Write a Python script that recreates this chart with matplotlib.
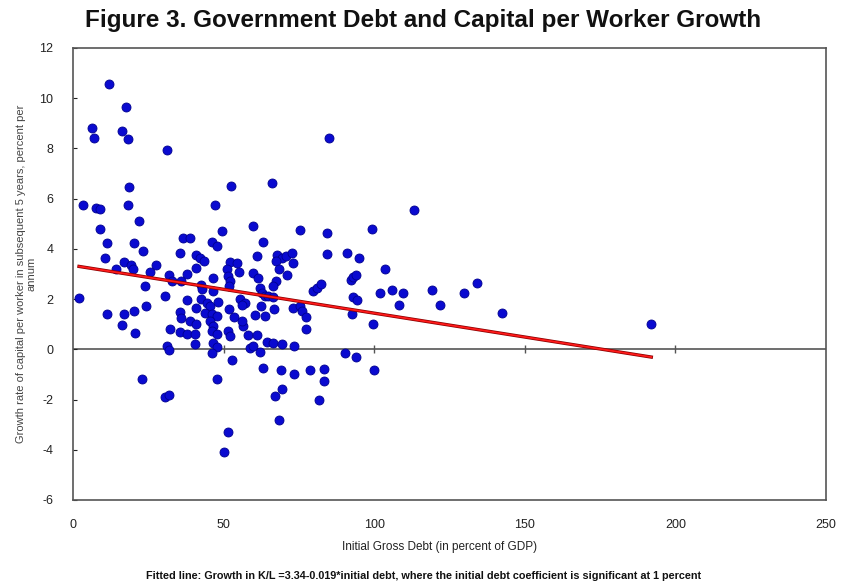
import matplotlib.pyplot as plt
import numpy as np

# initial gross debt (% of GDP) and subsequent 5-year growth of K/L (% p.a.)
debt = [12, 17.6, 6.3, 7, 16.4, 18.1, 31.2, 18.7, 52.4, 3.3, 7.8, 9, 18.3, 47.2,
        22, 9, 49.6, 11.2, 20.4, 36.4, 38.8, 46.2, 47.7, 23.1, 35.5, 10.6, 40.8,
        42.1, 43.6, 16.9, 19.3, 20, 27.5, 14.3, 25.6, 40.8, 52.1, 54.3, 51, 55.2,
        32, 37.7, 51.3, 46.4, 32.8, 35.8, 42.5, 42.7, 52.1, 51.9, 23.9, 46.4, 2,
        30.5, 37.7, 42.4, 44.4, 45.5, 55.5, 57, 24.2, 48.1, 40.8, 51.9, 35.5, 35.8,
        43.8, 46, 47.7, 11.4, 16.9, 20.4, 53.5, 16.4, 20.6, 32.2, 35.5, 38.8, 41,
        45.5, 46.6, 56.5, 37.7, 40.5, 46, 47.7, 51.5, 52.1, 31.1, 40.5, 46.6, 47.7,
        32, 46, 58.6, 52.9, 22.8, 47.7, 30.5, 31.9, 51.5, 50.1,
        85.1, 66, 113.2, 59.8, 75.5, 84.4, 99.2, 63.2, 61.2, 67.6, 69.3, 70.7, 72.8,
        73.1, 84.4, 91, 95, 67.4, 68.5, 70.9, 59.6, 61.5, 67.4, 66.5, 62.1,
        62.6, 103.5, 92.2, 93, 94.1, 79.8, 81.1, 82.5, 101.9, 106, 109.6, 108.3, 93,
        94.4, 63.7, 64.8, 66.5, 56, 62.3, 66.7, 72.9, 75.5, 75.9, 77.5, 60.4,
        63.7, 92.5, 99.7, 77.2, 56, 58.2, 61, 64.3, 66.5, 69.3, 73.3, 59.6,
        62.1, 90.3, 93.8, 63, 68.9, 73.3, 78.7, 83.4, 83.4, 99.9, 69.3, 67, 81.6,
        68.5, 119.2, 121.8, 129.8, 134.2, 142.3, 192]
growth = [10.56, 9.65, 8.8, 8.43, 8.7, 8.39, 7.94, 6.45, 6.5, 5.75, 5.64, 5.58, 5.75, 5.75,
          5.1, 4.81, 4.72, 4.24, 4.24, 4.42, 4.42, 4.27, 4.12, 3.92, 3.85, 3.65, 3.75,
          3.63, 3.52, 3.48, 3.36, 3.19, 3.37, 3.21, 3.08, 3.23, 3.48, 3.45, 3.19, 3.08,
          2.95, 2.99, 2.92, 2.84, 2.71, 2.74, 2.55, 2.39, 2.72, 2.52, 2.52, 2.32, 2.04,
          2.12, 1.95, 1.99, 1.86, 1.73, 1.99, 1.86, 1.73, 1.88, 1.66, 1.59, 1.49, 1.26,
          1.46, 1.39, 1.33, 1.39, 1.39, 1.53, 1.3, 0.96, 0.66, 0.8, 0.69, 1.13, 1.0,
          1.13, 0.93, 0.93, 0.6, 0.6, 0.73, 0.6, 0.73, 0.53, 0.13, 0.2, 0.27, 0.1,
          -0.03, -0.13, 0.05, -0.44, -1.2, -1.2, -1.89, -1.83, -3.29, -4.08,
          8.43, 6.63, 5.55, 4.91, 4.75, 4.65, 4.81, 4.27, 3.72, 3.75, 3.65, 3.72, 3.85,
          3.45, 3.78, 3.85, 3.65, 3.52, 3.19, 2.95, 3.05, 2.86, 2.72, 2.52, 2.46,
          2.26, 3.19, 2.76, 2.9, 2.97, 2.32, 2.46, 2.59, 2.23, 2.36, 2.23, 1.75, 2.1,
          1.96, 2.14, 2.14, 2.1, 1.75, 1.73, 1.59, 1.65, 1.73, 1.53, 1.3, 1.37,
          1.33, 1.39, 1.0, 0.82, 1.13, 0.56, 0.56, 0.29, 0.24, 0.2, 0.13, 0.13,
          -0.11, -0.16, -0.29, -0.73, -0.82, -1.0, -0.82, -0.77, -1.26, -0.82, -1.59, -1.86, -2.03,
          -2.83, 2.36, 1.75, 2.23, 2.66, 1.46, 1.0]

# fitted line: growth = 3.34 - 0.019 * debt
intercept = 3.34
slope = -0.019

xticks = [0, 50, 100, 150, 200, 250]
yticks = [-6, -4, -2, 0, 2, 4, 6, 8, 10, 12]

plt.rcParams['font.family'] = ['Liberation Sans', 'DejaVu Sans']
plt.rcParams['axes.unicode_minus'] = False

fig = plt.figure(figsize=(8.41, 5.86), dpi=100)
ax = fig.add_axes([73 / 841, 86 / 586, 753 / 841, 452 / 586])

ax.axhline(0, color='#555555', lw=1.2, zorder=1)
ax.plot(xticks[1:-1], [0] * 4, ls='none', marker='|', ms=6, mew=1, color='#555555', zorder=1)

ax.scatter(debt, growth, s=42, color='#0a0ad0', edgecolors='#000090', linewidths=0.6, zorder=3)

xs = np.array([min(debt), max(debt)])
ax.plot(xs, intercept + slope * xs, color='#8b0000', lw=2.4, zorder=4)
ax.plot(xs, intercept + slope * xs, color='#ff1a1a', lw=1.3, zorder=5)

ax.set_xlim(0, 250)
ax.set_ylim(-6, 12)
ax.set_xticks(xticks)
ax.set_yticks(yticks)
ax.tick_params(axis='x', length=0, pad=14, labelsize=9, colors='#222222')
ax.tick_params(axis='y', direction='in', length=3, pad=14, labelsize=9, colors='#222222')
for s in ax.spines.values():
    s.set_color('#555555')
    s.set_linewidth(1.2)

ax.set_ylabel('Growth rate of capital per worker in subsequent 5 years, percent per\nannum',
              fontsize=8, color='#444444', labelpad=2, linespacing=1.1)
fig.text(440 / 841, 1 - 547 / 586, 'Initial Gross Debt (in percent of GDP)',
         ha='center', va='center', fontsize=8.5, color='#222222')
fig.text(424 / 841, 1 - 576 / 586,
         'Fitted line: Growth in K/L =3.34-0.019*initial debt, where the initial debt coefficient is significant at 1 percent',
         ha='center', va='center', fontsize=7.8, color='#111111', weight='bold')
fig.text(423 / 841, 1 - 21 / 586, 'Figure 3. Government Debt and Capital per Worker Growth',
         ha='center', va='center', fontsize=17.5, weight='bold', color='#111111')

fig.savefig('out.png', dpi=100)
